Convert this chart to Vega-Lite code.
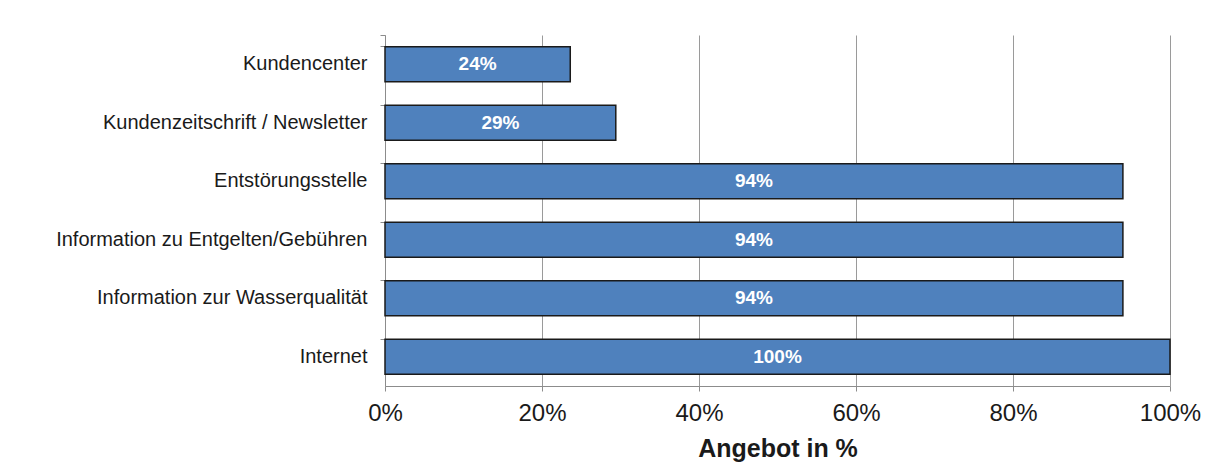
{
  "$schema": "https://vega.github.io/schema/vega-lite/v6.json",
  "autosize": {"type": "none"},
  "padding": {"left": 385, "top": 35, "right": 44, "bottom": 89},
  "width": 785,
  "height": 351,
  "background": "white",
  "config": {
    "view": {"stroke": null},
    "font": "Liberation Sans"
  },
  "data": {
    "values": [
      {"kategorie": "Kundencenter", "anteil": 0.236},
      {"kategorie": "Kundenzeitschrift / Newsletter", "anteil": 0.294},
      {"kategorie": "Entstörungsstelle", "anteil": 0.94},
      {"kategorie": "Information zu Entgelten/Gebühren", "anteil": 0.94},
      {"kategorie": "Information zur Wasserqualität", "anteil": 0.94},
      {"kategorie": "Internet", "anteil": 1.0}
    ]
  },
  "encoding": {
    "y": {
      "field": "kategorie",
      "type": "nominal",
      "sort": null,
      "scale": {"paddingInner": 0.4, "paddingOuter": 0.2},
      "axis": {
        "title": null,
        "bandPosition": 0,
        "tickExtra": true,
        "tickSize": 5,
        "tickColor": "#8c8c8c",
        "domainColor": "#8c8c8c",
        "labelPadding": 13,
        "labelFontSize": 20,
        "labelLimit": 400,
        "labelColor": "#1a1a1a",
        "grid": false
      }
    }
  },
  "layer": [
    {
      "mark": {"type": "bar", "color": "#4f81bd", "stroke": "#1a1a1a", "strokeWidth": 1.5},
      "encoding": {
        "x": {
          "field": "anteil",
          "type": "quantitative",
          "scale": {"domain": [0, 1], "nice": false},
          "axis": {
            "title": "Angebot in %",
            "format": ".0%",
            "values": [0, 0.2, 0.4, 0.6, 0.8, 1],
            "grid": true,
            "gridColor": "#9a9a9a",
            "gridWidth": 1,
            "tickSize": 5,
            "tickColor": "#8c8c8c",
            "domainColor": "#8c8c8c",
            "labelFlush": false,
            "labelFontSize": 24,
            "labelColor": "#1a1a1a",
            "labelPadding": 10,
            "titleFontSize": 25,
            "titleFontWeight": "bold",
            "titleColor": "#1a1a1a",
            "titlePadding": 11
          }
        }
      }
    },
    {
      "transform": [{"calculate": "datum.anteil / 2", "as": "mitte"}],
      "mark": {"type": "text", "color": "white", "fontWeight": "bold", "fontSize": 19, "align": "center", "baseline": "middle"},
      "encoding": {
        "x": {"field": "mitte", "type": "quantitative"},
        "text": {"field": "anteil", "type": "quantitative", "format": ".0%"}
      }
    }
  ]
}
